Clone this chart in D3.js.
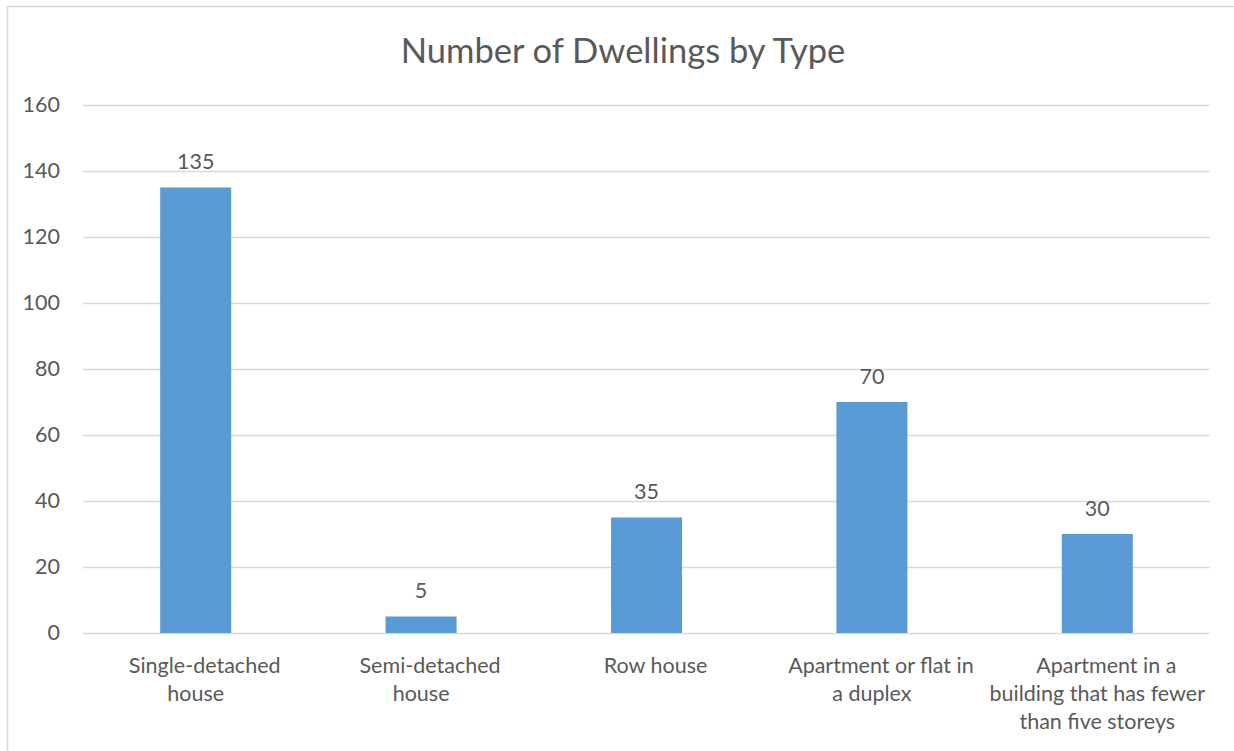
<!DOCTYPE html>
<html>
<head>
<meta charset="utf-8">
<script src="https://cdn.jsdelivr.net/npm/d3@7"></script>
<style>
  html, body { margin: 0; padding: 0; background: #fff; }
  svg { display: block; }
  text { font-family: Lato, "Open Sans", sans-serif; fill: #595959; }
</style>
</head>
<body>
<svg id="chart" width="1234" height="751"></svg>
<script>
// Dwelling types (line breaks mark how each axis label wraps)
const categories = [
  "Single-detached\nhouse",
  "Semi-detached\nhouse",
  "Row house",
  "Apartment or flat in\na duplex",
  "Apartment in a\nbuilding that has fewer\nthan five storeys"
];
const dwellings = [135, 5, 35, 70, 30];
const yTicks = [0, 20, 40, 60, 80, 100, 120, 140, 160];
const chartTitle = "Number of Dwellings by Type";

const svg = d3.select("#chart");
const W = 1234, H = 751;
const plot = { left: 83, right: 1210, top: 105, bottom: 633 };
const labelSize = 21.5;

// Outer chart frame
svg.append("rect")
  .attr("x", 7.5).attr("y", 6.5)
  .attr("width", W + 10).attr("height", H + 10)
  .attr("fill", "#fff")
  .attr("stroke", "#d9d9d9").attr("stroke-width", 1.5);

const x = d3.scaleBand()
  .domain(d3.range(categories.length))
  .range([plot.left, plot.right])
  .paddingInner(0.685)
  .paddingOuter(0.3425);

const y = d3.scaleLinear()
  .domain([0, 160])
  .range([plot.bottom, plot.top]);

// Horizontal gridlines and value axis labels
const yAxis = d3.axisLeft(y)
  .tickValues(yTicks)
  .tickSize(-(plot.right - plot.left))
  .tickPadding(23);

const gy = svg.append("g")
  .attr("transform", `translate(${plot.left},0)`)
  .call(yAxis);
gy.select(".domain").remove();
gy.selectAll(".tick line")
  .attr("stroke", "#d9d9d9").attr("stroke-width", 1.5);
gy.selectAll(".tick text")
  .attr("font-size", labelSize)
  .attr("fill", "#595959")
  .attr("font-family", "Lato, 'Open Sans', sans-serif");

// Bars
svg.append("g").selectAll("rect")
  .data(dwellings)
  .join("rect")
  .attr("x", (d, i) => x(i))
  .attr("width", x.bandwidth())
  .attr("y", d => y(d))
  .attr("height", d => y(0) - y(d))
  .attr("fill", "#5b9bd5");

// Value labels above bars
svg.append("g").selectAll("text")
  .data(dwellings)
  .join("text")
  .attr("x", (d, i) => x(i) + x.bandwidth() / 2)
  .attr("y", d => y(d) - 18.5)
  .attr("text-anchor", "middle")
  .attr("font-size", labelSize)
  .text(d => d);

// Category labels below the axis; the first line of each sits a little right
const catG = svg.append("g").selectAll("text")
  .data(categories)
  .join("text")
  .attr("x", (d, i) => x(i) + x.bandwidth() / 2)
  .attr("y", 673)
  .attr("text-anchor", "middle")
  .attr("font-size", labelSize);
catG.selectAll("tspan")
  .data(d => d.split("\n"))
  .join("tspan")
  .attr("x", function (d, i) {
    const cx = +d3.select(this.parentNode).attr("x");
    return i === 0 ? cx + 9 : cx;
  })
  .attr("dy", (d, i) => i === 0 ? 0 : 28)
  .text(d => d);

// Title
svg.append("text")
  .attr("x", 623)
  .attr("y", 63)
  .attr("text-anchor", "middle")
  .attr("font-size", 34.5)
  .text(chartTitle);
</script>
</body>
</html>
